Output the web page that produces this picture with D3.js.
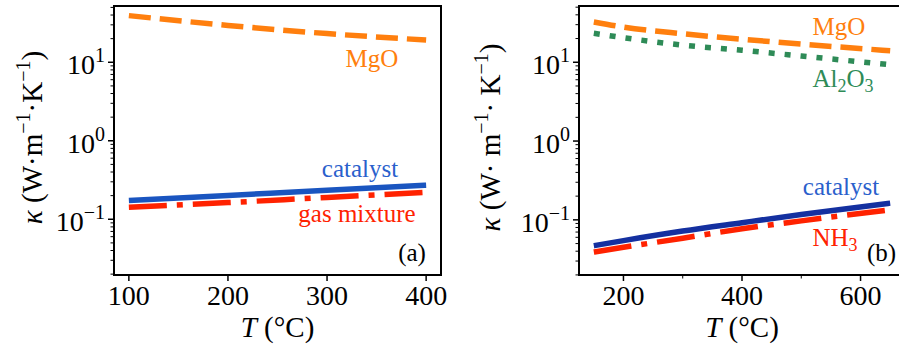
<!DOCTYPE html>
<html lang="en">
<head>
  <meta charset="UTF-8">
  <title>Thermal conductivity vs temperature</title>
  <script src="https://d3js.org/d3.v7.min.js"></script>
  <style>
    body { margin: 0; background: #fff; }
  </style>
</head>
<body>
  <svg width="899" height="349"></svg>

  <script>
    // panel (a)
    const tempA = [100, 200, 300, 400];
    const mgoA = [39.3, 29.5, 23.2, 19.2];
    const catalystA = [0.173, 0.201, 0.234, 0.271];
    const gasA = [0.142, 0.163, 0.19, 0.22];

    // panel (b)
    const tempB = [150, 200, 300, 400, 500, 650];
    const mgoB = [32.5, 28, 23, 19.6, 17, 14];
    const aluminaB = [23.3, 20.5, 16.5, 14.2, 12, 9.3];
    const catalystB = [0.047, 0.0545, 0.072, 0.092, 0.117, 0.163];
    const nh3B = [0.039, 0.0448, 0.0585, 0.077, 0.097, 0.134];

    const xTicksA = [100, 200, 300, 400];
    const xTicksB = [200, 400, 600];
    const xMinorB = [300, 500];
    const yTicks = [0.1, 1, 10];

    const svg = d3.select("svg");
    const FONT = "'Liberation Serif', 'DejaVu Serif', serif";

    function drawPanel(p) {
      const g = svg.append("g").attr("font-family", FONT);
      const x = d3.scaleLinear().domain(p.xDomain).range([p.left, p.right]);
      const y = d3.scaleLog().domain(p.yDomain).range([p.bottom, p.top]);

      // series
      const line = d3.line().curve(d3.curveMonotoneX).x(d => x(d[0])).y(d => y(d[1]));
      p.series.forEach(s => {
        g.append("path")
          .datum(d3.zip(p.temp, s.values))
          .attr("d", line)
          .attr("fill", "none")
          .attr("stroke", s.color)
          .attr("stroke-width", 5.5)
          .attr("stroke-dasharray", s.dash)
          .attr("stroke-linecap", "butt");
      });

      // y ticks: minor then major
      const minor = y.ticks().filter(v => !yTicks.includes(v));
      g.selectAll(".ymin").data(minor).enter().append("line")
        .attr("x1", p.left).attr("x2", p.left - 3.5)
        .attr("y1", d => y(d)).attr("y2", d => y(d))
        .attr("stroke", "#000").attr("stroke-width", 1);
      g.selectAll(".ymaj").data(yTicks).enter().append("line")
        .attr("x1", p.left).attr("x2", p.left - 6)
        .attr("y1", d => y(d)).attr("y2", d => y(d))
        .attr("stroke", "#000").attr("stroke-width", 1.5);
      const yl = g.selectAll(".ylab").data(yTicks).enter().append("text")
        .attr("x", p.left - 9)
        .attr("y", d => y(d) + 12)
        .attr("text-anchor", "end")
        .attr("font-size", 28);
      yl.append("tspan").text("10");
      yl.append("tspan").attr("dy", -12).attr("font-size", 20)
        .text(d => String(Math.round(Math.log10(d))).replace("-", "\u2212"));

      // x ticks
      g.selectAll(".xmin").data(p.xMinor).enter().append("line")
        .attr("x1", d => x(d)).attr("x2", d => x(d))
        .attr("y1", p.bottom).attr("y2", p.bottom + 3.5)
        .attr("stroke", "#000").attr("stroke-width", 1);
      g.selectAll(".xmaj").data(p.xTicks).enter().append("line")
        .attr("x1", d => x(d)).attr("x2", d => x(d))
        .attr("y1", p.bottom).attr("y2", p.bottom + 6)
        .attr("stroke", "#000").attr("stroke-width", 1.5);
      g.selectAll(".xlab").data(p.xTicks).enter().append("text")
        .attr("x", d => x(d)).attr("y", 305)
        .attr("text-anchor", "middle").attr("font-size", 28)
        .text(d => d);

      // frame
      g.append("rect")
        .attr("x", p.left).attr("y", p.top)
        .attr("width", p.right - p.left).attr("height", p.bottom - p.top)
        .attr("fill", "none").attr("stroke", "#000").attr("stroke-width", 2);

      // axis labels
      const xl = g.append("text")
        .attr("x", (p.left + p.right) / 2).attr("y", 337)
        .attr("text-anchor", "middle").attr("font-size", 29);
      xl.append("tspan").attr("font-style", "italic").text("T");
      xl.append("tspan").text(" (\u00b0C)");

      const ylab = g.append("text")
        .attr("transform", `translate(${p.yLabelX},${(p.top + p.bottom) / 2 - 3}) rotate(-90)`)
        .attr("text-anchor", "middle").attr("font-size", 29);
      ylab.append("tspan").attr("font-style", "italic").text("\u03ba");
      ylab.append("tspan").text(" (W\u00b7" + p.sp + "m");
      ylab.append("tspan").attr("dy", -12).attr("font-size", 20).text("\u22121");
      ylab.append("tspan").attr("dy", 12).text("\u00b7" + p.sp + "K");
      ylab.append("tspan").attr("dy", -12).attr("font-size", 20).text("\u22121");
      ylab.append("tspan").attr("dy", 12).text(")");

      // annotations
      p.notes.forEach(n => {
        const t = g.append("text")
          .attr("x", n.x).attr("y", n.y)
          .attr("text-anchor", n.anchor || "middle")
          .attr("font-size", 25)
          .attr("fill", n.color);
        n.parts.forEach(part => {
          const ts = t.append("tspan").attr("fill", n.color).text(part[0]);
          if (part[1] === "sub") ts.attr("dy", 5).attr("font-size", 18);
          if (part[1] === "up") ts.attr("dy", -5);
        });
      });
    }

    const orange = "#ff7f0e", red = "#ff2200", green = "#2e8b57";

    drawPanel({
      left: 114, right: 441, top: 6, bottom: 275,
      xDomain: [85, 415], yDomain: [Math.pow(10, -1.71), Math.pow(10, 1.717)],
      temp: tempA,
      xTicks: xTicksA, xMinor: [],
      yLabelX: 42, sp: "",
      series: [
        { values: mgoA, color: orange, dash: "22,9" },
        { values: gasA, color: red, dash: "38,10,6,10" },
        { values: catalystA, color: "#1a55c0", dash: null }
      ],
      notes: [
        { x: 372, y: 67, color: orange, parts: [["MgO"]] },
        { x: 360, y: 177, color: "#2a60cc", parts: [["catalyst"]] },
        { x: 357, y: 222, color: red, parts: [["gas mixture"]] },
        { x: 412, y: 261, color: "#000", parts: [["(a)"]] }
      ]
    });

    drawPanel({
      left: 579, right: 905, top: 6, bottom: 275,
      xDomain: [125, 675], yDomain: [Math.pow(10, -1.70), Math.pow(10, 1.714)],
      temp: tempB,
      xTicks: xTicksB, xMinor: xMinorB,
      yLabelX: 500, sp: " ",
      series: [
        { values: mgoB, color: orange, dash: "22,9" },
        { values: aluminaB, color: green, dash: "6,10" },
        { values: nh3B, color: red, dash: "38,10,6,10" },
        { values: catalystB, color: "#1430a0", dash: null }
      ],
      notes: [
        { x: 839, y: 35, color: orange, parts: [["MgO"]] },
        { x: 843, y: 87, color: green, parts: [["Al"], ["2", "sub"], ["O", "up"], ["3", "sub"]] },
        { x: 841, y: 195, color: "#2a60cc", parts: [["catalyst"]] },
        { x: 835, y: 246, color: red, parts: [["NH"], ["3", "sub"]] },
        { x: 867, y: 261, color: "#000", anchor: "start", parts: [["(b)"]] }
      ]
    });
  </script>
</body>
</html>
